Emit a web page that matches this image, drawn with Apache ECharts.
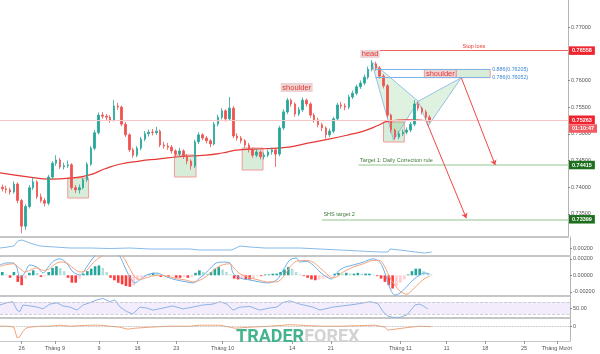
<!DOCTYPE html>
<html>
<head>
<meta charset="utf-8">
<title>Head and shoulders</title>
<script src="https://cdn.jsdelivr.net/npm/echarts@6/dist/echarts.min.js"></script>
<style>
  html, body { margin: 0; padding: 0; background: #fff; }
  #main { width: 600px; height: 354px; }
</style>
</head>
<body>
<div id="main"></div>
<script>
// half-day bars, x = bar index
var opens = [
  0.7400,0.7397,0.7395,0.7391,0.7406,0.7375,0.7327,0.7364,0.7399,0.7410,
  0.7382,0.7375,0.7370,0.7419,0.7445,0.7451,0.7438,0.7440,0.7442,0.7399,
  0.7395,0.7399,0.7414,0.7443,0.7473,0.7502,0.7535,0.7533,0.7531,0.7526,
  0.7552,0.7550,0.7518,0.7498,0.7470,0.7460,0.7473,0.7490,0.7500,0.7503,
  0.7502,0.7505,0.7479,0.7477,0.7475,0.7468,0.7462,0.7468,0.7458,0.7449,
  0.7440,0.7485,0.7498,0.7492,0.7487,0.7481,0.7518,0.7531,0.7543,0.7528,
  0.7548,0.7496,0.7492,0.7487,0.7479,0.7470,0.7460,0.7466,0.7457,0.7460,
  0.7466,0.7470,0.7462,0.7511,0.7541,0.7563,0.7556,0.7537,0.7545,0.7563,
  0.7556,0.7535,0.7526,0.7517,0.7511,0.7498,0.7505,0.7528,0.7554,0.7552,
  0.7550,0.7569,0.7576,0.7588,0.7595,0.7606,0.7621,0.7631,0.7623,0.7608,
  0.7590,0.7535,0.7507,0.7494,0.7500,0.7503,0.7507,0.7518,0.7556,0.7548,
  0.7541,0.7531];
var closes = [
  0.7397,0.7395,0.7391,0.7406,0.7375,0.7327,0.7364,0.7399,0.7410,0.7382,
  0.7375,0.7370,0.7419,0.7445,0.7451,0.7438,0.7440,0.7442,0.7399,0.7395,
  0.7399,0.7414,0.7443,0.7473,0.7502,0.7535,0.7533,0.7531,0.7526,0.7552,
  0.7550,0.7518,0.7498,0.7470,0.7460,0.7473,0.7490,0.7500,0.7503,0.7502,
  0.7505,0.7479,0.7477,0.7475,0.7468,0.7462,0.7468,0.7458,0.7449,0.7440,
  0.7485,0.7498,0.7492,0.7487,0.7481,0.7518,0.7531,0.7543,0.7528,0.7548,
  0.7496,0.7492,0.7487,0.7479,0.7470,0.7460,0.7466,0.7457,0.7460,0.7466,
  0.7470,0.7462,0.7511,0.7541,0.7563,0.7556,0.7537,0.7545,0.7563,0.7556,
  0.7535,0.7526,0.7517,0.7511,0.7498,0.7505,0.7528,0.7554,0.7552,0.7550,
  0.7569,0.7576,0.7588,0.7595,0.7606,0.7621,0.7631,0.7623,0.7608,0.7590,
  0.7535,0.7507,0.7494,0.7500,0.7503,0.7507,0.7518,0.7556,0.7548,0.7541,
  0.7531,0.7526];
var highs = [
  0.7405,0.7403,0.7399,0.7411,0.7409,0.7378,0.7368,0.7404,0.7418,0.7413,
  0.7388,0.7380,0.7423,0.7449,0.7460,0.7455,0.7446,0.7450,0.7445,0.7404,
  0.7405,0.7418,0.7447,0.7477,0.7507,0.7540,0.7541,0.7537,0.7535,0.7563,
  0.7558,0.7553,0.7522,0.7501,0.7474,0.7477,0.7494,0.7505,0.7508,0.7509,
  0.7513,0.7508,0.7485,0.7483,0.7479,0.7471,0.7474,0.7471,0.7462,0.7452,
  0.7489,0.7503,0.7501,0.7496,0.7490,0.7522,0.7536,0.7548,0.7546,0.7569,
  0.7552,0.7501,0.7496,0.7490,0.7483,0.7474,0.7471,0.7469,0.7465,0.7470,
  0.7474,0.7473,0.7515,0.7546,0.7567,0.7566,0.7559,0.7550,0.7568,0.7566,
  0.7559,0.7539,0.7530,0.7521,0.7514,0.7510,0.7532,0.7558,0.7560,0.7557,
  0.7573,0.7581,0.7592,0.7600,0.7611,0.7626,0.7638,0.7635,0.7627,0.7612,
  0.7593,0.7538,0.7510,0.7505,0.7508,0.7512,0.7522,0.7563,0.7560,0.7551,
  0.7545,0.7535];
var lows = [
  0.7392,0.7389,0.7386,0.7388,0.7370,0.7314,0.7320,0.7360,0.7395,0.7378,
  0.7371,0.7364,0.7366,0.7415,0.7440,0.7434,0.7433,0.7436,0.7395,0.7389,
  0.7388,0.7396,0.7410,0.7440,0.7469,0.7499,0.7528,0.7525,0.7521,0.7523,
  0.7545,0.7514,0.7494,0.7466,0.7455,0.7456,0.7469,0.7486,0.7495,0.7497,
  0.7498,0.7475,0.7472,0.7470,0.7463,0.7457,0.7458,0.7453,0.7443,0.7433,
  0.7436,0.7481,0.7488,0.7482,0.7475,0.7478,0.7514,0.7527,0.7523,0.7525,
  0.7492,0.7487,0.7482,0.7474,0.7465,0.7455,0.7456,0.7452,0.7452,0.7456,
  0.7461,0.7438,0.7458,0.7507,0.7537,0.7551,0.7532,0.7533,0.7541,0.7551,
  0.7530,0.7521,0.7512,0.7505,0.7491,0.7494,0.7501,0.7524,0.7547,0.7544,
  0.7546,0.7565,0.7572,0.7584,0.7591,0.7602,0.7617,0.7618,0.7603,0.7585,
  0.7530,0.7502,0.7489,0.7490,0.7496,0.7499,0.7503,0.7514,0.7543,0.7536,
  0.7526,0.7521];

// moving average, [bar, price]
var maPts = [[-0.6,0.7427],[7.1,0.7419],[12.3,0.7415],[17.5,0.7417],[22.7,0.7423],[26.5,0.7434],
  [30.4,0.7443],[35.6,0.7449],[40.8,0.7453],[45.9,0.7457],[52.9,0.7460],[57.1,0.7464],[61.5,0.7470],
  [67.9,0.7472],[74.4,0.7475],[79.6,0.7483],[84.8,0.7490],[89.9,0.7498],[93.8,0.7505],[97.7,0.7516],
  [100.3,0.7524],[105.5,0.7526],[111.1,0.7524]];

// harmonic pattern X A B C D
var patIdx = [95.9, 101.6, 108.0, 110.6, 119.2];
var patPx  = [0.7635, 0.7488, 0.7561, 0.7515, 0.7605];
var patTris = [[0, 1, 2], [2, 3, 4]];

// levels
var stopLoss = 0.76558, lastPrice = 0.75263, target1 = 0.74415, target2 = 0.73399;
var fib886 = 0.76205, fib786 = 0.76052;

// panel 2 line
var volPts = [[-0.6,0.0020],[1.45,0.0021],[3.0,0.0022],[4.0,0.0027],[5.1,0.0028],[7.1,0.0025],[9.7,0.0022],
  [13.6,0.0021],[17.5,0.0020],[22.7,0.0020],[27.8,0.00195],[33.0,0.0020],[38.2,0.0019],[43.4,0.0019],
  [48.5,0.0019],[51.1,0.0018],[56.3,0.0018],[59.4,0.0018],[61.5,0.0022],[64.1,0.0021],[67.9,0.0020],
  [73.1,0.0020],[77.0,0.0020],[82.2,0.0019],[87.3,0.0018],[92.5,0.0017],[97.7,0.0016],[99.8,0.0016],
  [100.3,0.0019],[102.9,0.0018],[106.8,0.0016],[109.3,0.0015],[111.1,0.0016]];

// MACD
var macdPts = [[-0.6,0.00125],[1.1,0.0015],[2.8,0.0015],[3.7,0.001],[4.6,-0.00033],[5.8,0.00028],[7.1,0.00125],
  [8.9,0.001],[10.6,0.00028],[11.9,0.001],[13.2,0.0017],[14.9,0.002],[16.6,0.0015],[18.3,0.0004],[20.1,0.00004],
  [21.8,0.001],[23.5,0.0021],[25.3,0.0028],[28.7,0.0029],[30.4,0.0023],[31.7,0.001],[33.0,-0.0002],[34.3,-0.00093],
  [35.6,-0.00057],[37.3,0.00004],[39.9,0.00028],[42.5,-0.0002],[45.1,-0.00057],[47.7,-0.0008],[49.4,-0.00093],
  [51.1,-0.00033],[52.9,0.0004],[55.4,0.0015],[57.2,0.0016],[58.9,0.0015],[59.7,0.00028],[61.5,-0.00033],
  [64.1,-0.00057],[66.6,-0.0008],[68.4,-0.00093],[71.0,-0.00057],[72.7,0.00064],[74.4,0.00185],[76.1,0.0021],
  [77.0,0.0016],[78.7,0.0017],[80.4,0.00125],[82.2,0.0004],[83.9,-0.0002],[85.2,-0.00045],[86.5,0.00028],
  [88.2,0.0009],[90.8,0.00125],[93.4,0.0016],[95.96,0.002],[97.7,0.0016],[99.0,0.00028],[100.3,-0.00154],
  [101.6,-0.0024],[102.9,-0.00215],[104.6,-0.0014],[106.3,-0.00057],[108.0,0.00004],[109.3,0.00028],[110.6,0.00016]];
var signalPts = [[-0.6,0.0011],[1.1,0.0013],[2.8,0.0014],[4.6,0.0008],[5.8,0.0004],[7.1,0.0006],[8.9,0.0009],
  [10.6,0.0006],[11.9,0.0007],[13.2,0.0012],[14.9,0.0016],[16.6,0.0015],[18.3,0.0009],[20.1,0.0004],[21.8,0.0006],
  [23.5,0.0015],[25.3,0.0022],[28.7,0.0029],[30.4,0.0028],[31.7,0.0019],[33.0,0.0008],[34.3,-0.0002],[35.6,-0.0005],
  [37.3,-0.0003],[39.9,0.0000],[42.5,-0.0001],[45.1,-0.0004],[47.7,-0.0006],[49.4,-0.0008],[51.1,-0.0006],
  [52.9,-0.0001],[55.4,0.0009],[57.2,0.0013],[58.9,0.0014],[59.7,0.0010],[61.5,0.0002],[64.1,-0.0003],
  [66.6,-0.0006],[68.4,-0.0008],[71.0,-0.0008],[72.7,-0.0002],[74.4,0.0010],[76.1,0.0017],[78.7,0.0018],
  [80.4,0.0016],[82.2,0.0009],[83.9,0.0002],[85.2,-0.0003],[86.5,-0.0002],[88.2,0.0004],[90.8,0.0010],
  [93.4,0.0014],[95.96,0.0018],[97.7,0.0018],[99.0,0.0010],[100.3,-0.0003],[101.6,-0.0012],[102.9,-0.0019],
  [104.6,-0.0023],[106.3,-0.0017],[108.0,-0.0009],[109.3,-0.0004],[110.6,-0.0001]];
var macdHist = [
  0.0004,0.0001,-0.0003,0.0004,-0.0008,-0.0012,-0.0004,0.0003,0.0006,0.0003,
  -0.0002,-0.0001,0.0004,0.0009,0.0011,0.0009,0.0005,-0.0003,-0.0009,-0.0009,
  -0.0004,0.0002,0.0005,0.0008,0.0011,0.0012,0.0009,0.0004,-0.0003,-0.0006,
  -0.0009,-0.0011,-0.0013,-0.0014,-0.0012,-0.0006,-0.0003,-0.0002,0.0001,0.0003,
  0.0002,-0.0002,-0.0001,-0.0002,-0.0001,-0.0003,-0.0003,-0.0002,-0.0003,-0.0002,
  0.0003,0.0006,0.0004,0.0002,0.0004,0.0008,0.0010,0.0007,0.0004,0.0001,
  -0.0004,-0.0005,-0.0004,-0.0005,-0.0005,-0.0004,-0.0001,-0.0001,0.0001,0.0001,
  0.0002,0.0002,0.0004,0.0007,0.0010,0.0008,0.0004,0.0001,-0.0001,-0.0003,
  -0.0005,-0.0006,-0.0005,-0.0004,-0.0003,-0.0001,0.0002,0.0003,0.0002,0.0003,
  0.0002,0.0002,0.0003,0.0002,0.0002,0.0002,0.0001,-0.0001,-0.0004,-0.0008,
  -0.0012,-0.0016,-0.0013,-0.0009,-0.0005,0.0001,0.0005,0.0008,0.0008,0.0005,
  0.0003,0.0001];

// RSI
var rsiPts = [[-0.6,60],[1.2,67.7],[2.7,71],[3.8,43],[4.55,38],[5.3,60],[7.1,57],[9.0,53],[10.5,47],[12.3,63],
  [14.1,67],[15.7,57],[17.5,53],[19.3,43],[20.9,60],[22.7,68],[24.5,77],[26.0,82],[27.8,71],[29.1,77],[30.4,54],
  [32.2,38],[33.8,30],[35.6,53],[37.4,50],[39.0,43],[41.6,50],[44.1,57],[46.7,47],[49.3,53],[51.9,60],[54.5,63],
  [56.3,71],[58.1,63],[59.7,43],[61.5,53],[64.1,55],[66.6,43],[69.2,50],[71.0,53],[72.6,68],[74.4,74],[77.0,63],
  [80.4,53],[82.2,43],[85.5,53],[88.1,57],[91.7,63],[95.1,71],[97.2,65],[98.5,38],[99.8,23],[101.1,19],[102.9,19],
  [104.7,27],[106.8,60],[108.0,63],[109.3,54],[110.1,47]];

// bottom oscillator
var oscPts = [[-0.6,0.5],[1.45,0.5],[3.0,-0.5],[3.8,-11],[4.55,-10],[5.3,-5],[6.1,-1.5],[7.1,-0.5],[9.7,0.5],
  [12.3,0.5],[14.9,1.5],[17.5,0.5],[22.7,1.5],[25.3,1.5],[27.8,0.5],[30.4,-0.5],[32.5,-2.5],[34.3,-1.5],
  [38.2,-0.5],[43.4,0.5],[48.5,0.5],[51.1,1.5],[56.3,1.5],[60.2,-1.5],[64.1,-0.5],[69.2,0.5],[74.4,2],
  [77.0,1.5],[82.2,0.5],[87.3,0.5],[92.5,1],[96.4,1.5],[99.0,-0.5],[99.8,-3.5],[101.6,-2.5],[105.5,-0.5],
  [108.0,0.5],[111.1,0]];

// time axis labels
var dateLabelPos = [5, 13.6, 25, 35, 45, 57, 75, 85, 103, 115, 125, 135, 143.5];
var dateLabelText = ['26', 'Tháng 9', '9', '16', '23', 'Tháng 10', '14', '21', 'Tháng 11', '11', '18', '25', 'Tháng Mười'];

var priceTicks = [0.735, 0.74, 0.745, 0.75, 0.755, 0.76, 0.765, 0.77];
var tagVals = [0.76558, 0.75263, 0.75099, 0.74415, 0.73399];
var tagText = ['0.76558', '0.75263', '01:10:47', '0.74415', '0.73399'];
var tagStyle = ['r', 'r', 't', 'g', 'g'];

var xMin = -0.6, xMax = 146.9;
var font = 'Liberation Sans';

var chart = echarts.init(document.getElementById('main'));

var candles = opens.map(function (o, i) { return [i, o, closes[i], lows[i], highs[i]]; });
var histData = macdHist.map(function (v, i) { return [i, v]; });
var tris = patTris.map(function (t) {
  return [patIdx[t[0]], patPx[t[0]], patIdx[t[1]], patPx[t[1]], patIdx[t[2]], patPx[t[2]]];
});

function pickLabel(list, texts, v) {
  for (var k = 0; k < list.length; k++) {
    if (Math.abs(list[k] - v) < 1e-7) return texts[k];
  }
  return '';
}

function xAx(g, last) {
  return {
    type: 'value', gridIndex: g, min: xMin, max: xMax,
    axisLine: { show: true, onZero: false, lineStyle: { color: '#c6c6c6', width: last ? 1 : 2 } },
    axisTick: { show: last, customValues: dateLabelPos, length: 3, lineStyle: { color: '#999' } },
    axisLabel: {
      show: last, customValues: dateLabelPos, fontSize: 5.5, color: '#555', margin: 4, fontFamily: font,
      formatter: function (v) { return pickLabel(dateLabelPos, dateLabelText, v); }
    },
    splitLine: { show: false }
  };
}

function yAx(g, min, max, ticks, fmt) {
  return {
    type: 'value', gridIndex: g, position: 'right', min: min, max: max,
    axisLine: { show: true, onZero: false, lineStyle: { color: '#b5b5b5' } },
    axisTick: { show: true, customValues: ticks, length: 2, lineStyle: { color: '#888' } },
    axisLabel: { customValues: ticks, fontSize: 5.5, color: '#555', margin: 3, fontFamily: font, formatter: fmt },
    splitLine: { show: false }
  };
}

function lvl(x0, x1, y, color, width, label) {
  var s = { coord: [x0, y], lineStyle: { color: color, width: width, type: 'solid' } };
  s.label = label || { show: false };
  return [s, { coord: [x1, y] }];
}

function box(x0, x1, y0, y1, fill, border, name) {
  var a = { xAxis: x0, yAxis: y0, itemStyle: { color: fill, borderColor: border, borderWidth: border ? 1 : 0 } };
  if (name) {
    a.name = name;
    a.label = { show: true, position: 'inside', formatter: '{b}', color: '#e53935', fontSize: 7.5, fontFamily: font };
  } else {
    a.label = { show: false };
  }
  return [a, { xAxis: x1, yAxis: y1 }];
}

var boxFill = 'rgba(76,175,80,0.22)', boxLine = '#f19a9a', tagFill = '#ecd3d3';

var option = {
  animation: false,
  backgroundColor: '#fff',
  textStyle: { fontFamily: font },
  grid: [
    { left: 0, right: 30, top: 0, height: 237 },
    { left: 0, right: 30, top: 237, height: 19 },
    { left: 0, right: 30, top: 256, height: 40 },
    { left: 0, right: 30, top: 296, height: 22 },
    { left: 0, right: 30, top: 318, height: 23 }
  ],
  xAxis: [xAx(0, false), xAx(1, false), xAx(2, false), xAx(3, false), xAx(4, true)],
  yAxis: [
    yAx(0, 0.730674, 0.775056, priceTicks, function (v) { return v.toFixed(5); }),
    {
      type: 'value', gridIndex: 0, position: 'right', min: 0.730674, max: 0.775056,
      axisLine: { show: false, onZero: false }, axisTick: { show: false }, splitLine: { show: false },
      axisLabel: {
        customValues: tagVals, margin: 1, fontFamily: font,
        formatter: function (v) {
          for (var k = 0; k < tagVals.length; k++) {
            if (Math.abs(tagVals[k] - v) < 1e-7) return '{' + tagStyle[k] + '|' + tagText[k] + '}';
          }
          return '';
        },
        rich: {
          r: { backgroundColor: '#f0232f', color: '#fff', fontSize: 5.5, padding: [1.5, 3, 1, 3], fontWeight: 'bold' },
          t: { backgroundColor: '#f35b62', color: '#fff', fontSize: 5.5, padding: [1.5, 3, 1, 3], fontWeight: 'bold' },
          g: { backgroundColor: '#1d6e1d', color: '#fff', fontSize: 5.5, padding: [1.5, 3, 1, 3], fontWeight: 'bold' }
        }
      }
    },
    yAx(1, 0.0012, 0.0031, [0.002], function (v) { return v.toFixed(5); }),
    yAx(2, -0.00251, 0.00234, [-0.002, 0, 0.002], function (v) { return v.toFixed(5); }),
    yAx(3, 16.67, 90, [50], function (v) { return v.toFixed(2); }),
    yAx(4, -14.3, 8.7, [0], function (v) { return String(v); })
  ],
  graphic: [{
    type: 'text', left: 236, top: 328, z: 100, silent: true,
    style: {
      text: '{a|TRADER}{b|FOREX}',
      rich: {
        a: { fill: '#45b48c', fontSize: 18, fontWeight: 'bold', fontFamily: 'Roboto' },
        b: { fill: '#d3d3d3', fontSize: 18, fontWeight: 'bold', fontFamily: 'Roboto' }
      }
    }
  }],
  series: [
    {
      name: 'MA', type: 'line', xAxisIndex: 0, yAxisIndex: 0, z: 2,
      data: maPts, smooth: true, showSymbol: false,
      lineStyle: { color: '#e53935', width: 1.2 },
      markArea: {
        silent: true,
        data: [
          box(17.0, 22.4, 0.74172, 0.73798, boxFill, boxLine),
          box(44.7, 50.3, 0.74603, 0.74191, boxFill, boxLine),
          box(62.3, 67.7, 0.74734, 0.74322, boxFill, boxLine),
          box(99.0, 104.4, 0.75221, 0.74847, boxFill, boxLine),
          box(72.3, 80.6, 0.75951, 0.75782, tagFill, null, 'shoulder'),
          box(93.0, 98.0, 0.76569, 0.76420, tagFill, null, 'head'),
          box(109.6, 117.9, fib886, fib786, tagFill, boxLine, 'shoulder'),
          box(117.9, 126.7, fib886, fib786, boxFill, boxLine)
        ]
      },
      markLine: {
        silent: true, symbol: 'none',
        data: [
          lvl(xMin, xMax, lastPrice, '#f7c6c6', 1),
          lvl(98.0, xMax, stopLoss, '#f26262', 1,
            { show: true, position: 'insideMiddleTop', formatter: 'Stop loss', color: '#e53935', fontSize: 5.5, distance: 1 }),
          lvl(96.9, 126.7, fib886, '#7fb2e5', 1,
            { show: true, position: 'end', formatter: '0.886(0.76205)', color: '#3d85d0', fontSize: 5.3, distance: 2 }),
          lvl(96.9, 126.7, fib786, '#7fb2e5', 1,
            { show: true, position: 'end', formatter: '0.786(0.76052)', color: '#3d85d0', fontSize: 5.3, distance: 2 }),
          lvl(92.5, xMax, target1, '#b5d9b5', 1.5,
            { show: true, position: 'insideStartTop', formatter: 'Target 1: Daily Correction rule', color: '#3b7a3b', fontSize: 5.5, distance: 1.5 }),
          lvl(83.0, xMax, target2, '#b5d9b5', 1.5,
            { show: true, position: 'insideStartTop', formatter: 'SHS target 2', color: '#3b7a3b', fontSize: 5.5, distance: 1.5 })
        ]
      }
    },
    {
      name: 'pattern', type: 'custom', xAxisIndex: 0, yAxisIndex: 0, z: 2,
      data: tris, encode: { x: [0, 2, 4], y: [1, 3, 5] }, silent: true,
      renderItem: function (params, api) {
        var pts = [];
        for (var k = 0; k < 3; k++) pts.push(api.coord([api.value(2 * k), api.value(2 * k + 1)]));
        return {
          type: 'polygon', shape: { points: pts },
          style: { fill: 'rgba(76,175,80,0.18)', stroke: '#80b2e4', lineWidth: 0.8 }
        };
      }
    },
    {
      name: 'price', type: 'candlestick', xAxisIndex: 0, yAxisIndex: 0, z: 3,
      data: candles, encode: { x: 0, y: [1, 2, 3, 4] }, barWidth: 2,
      itemStyle: { color: '#26a69a', color0: '#ef5350', borderColor: '#26a69a', borderColor0: '#ef5350', borderWidth: 0.8 },
      markLine: {
        silent: true, symbol: ['none', 'arrow'], symbolSize: 5,
        lineStyle: { color: '#f04848', width: 1, type: 'solid' },
        label: { show: false },
        data: [
          [{ coord: [patIdx[4], patPx[4]] }, { coord: [128.0, target1] }],
          [{ coord: [110.2, 0.7522] }, { coord: [120.5, 0.7342] }]
        ]
      }
    },
    {
      name: 'vol', type: 'line', xAxisIndex: 1, yAxisIndex: 2, data: volPts, showSymbol: false,
      lineStyle: { color: '#86bbe8', width: 1 }
    },
    {
      name: 'hist', type: 'bar', xAxisIndex: 2, yAxisIndex: 3, data: histData, barWidth: 2.6,
      itemStyle: {
        color: function (p) {
          var v = macdHist[p.dataIndex], prev = p.dataIndex > 0 ? macdHist[p.dataIndex - 1] : 0;
          if (v >= 0) return v >= prev ? '#26a69a' : '#b2dfdb';
          return v <= prev ? '#ff3b3b' : '#ffcdd2';
        }
      }
    },
    {
      name: 'macd', type: 'line', xAxisIndex: 2, yAxisIndex: 3, data: macdPts, showSymbol: false, smooth: 0.3,
      lineStyle: { color: '#6aaee8', width: 1 }
    },
    {
      name: 'signal', type: 'line', xAxisIndex: 2, yAxisIndex: 3, data: signalPts, showSymbol: false, smooth: 0.3,
      lineStyle: { color: '#f5a178', width: 1 }
    },
    {
      name: 'rsi', type: 'line', xAxisIndex: 3, yAxisIndex: 4, data: rsiPts, showSymbol: false,
      lineStyle: { color: '#8db3e4', width: 1 },
      markArea: {
        silent: true, itemStyle: { color: 'rgba(160,110,230,0.13)' },
        data: [[{ xAxis: xMin, yAxis: 30 }, { xAxis: xMax, yAxis: 70 }]]
      },
      markLine: {
        silent: true, symbol: 'none', label: { show: false },
        lineStyle: { color: '#c4c4c4', type: 'dashed', width: 0.8 },
        data: [{ yAxis: 30 }, { yAxis: 70 }]
      }
    },
    {
      name: 'osc', type: 'line', xAxisIndex: 4, yAxisIndex: 5, data: oscPts, showSymbol: false,
      lineStyle: { color: '#f0a478', width: 1 },
      markLine: {
        silent: true, symbol: 'none', label: { show: false },
        lineStyle: { color: '#aaa', type: 'dotted', width: 0.8 },
        data: [{ yAxis: 0 }]
      }
    }
  ]
};

chart.setOption(option);
</script>
</body>
</html>
